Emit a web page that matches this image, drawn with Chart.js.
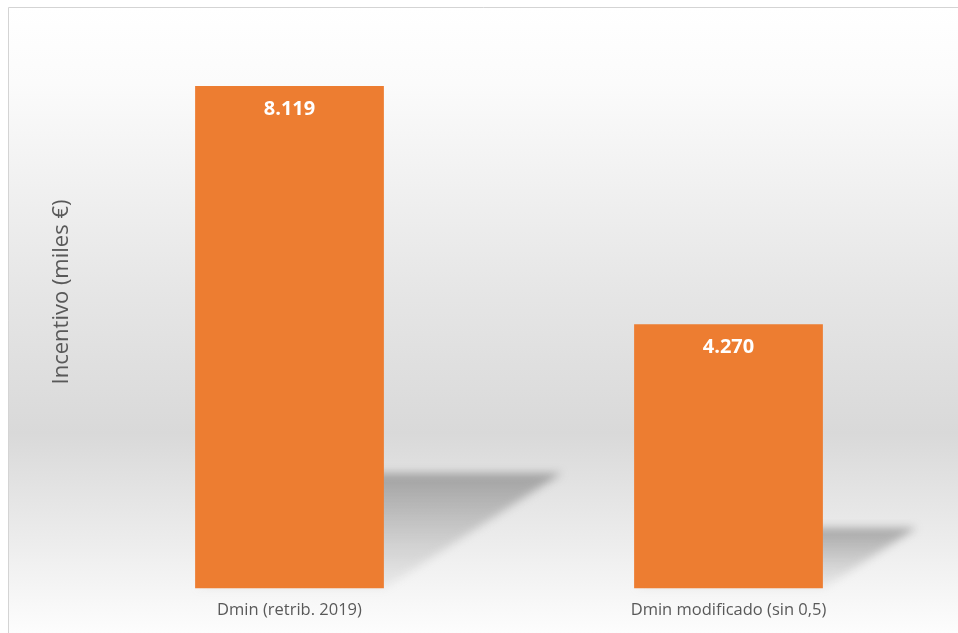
<!DOCTYPE html>
<html>
<head>
<meta charset="utf-8">
<script src="https://cdn.jsdelivr.net/npm/chart.js@4"></script>
<style>
  html, body { margin: 0; padding: 0; background: #fff; overflow: hidden; }
  #wrap { width: 958px; height: 633px; }
</style>
</head>
<body>
<div id="wrap"><canvas id="chart" width="958" height="633"></canvas></div>
<script>
const categories = ["Dmin (retrib. 2019)", "Dmin modificado (sin 0,5)"];
const incentivo = [8119, 4270];
const yTitle = "Incentivo (miles €)";

const FONT = "'Open Sans', sans-serif";
const ORANGE = "#ed7d31";
const GREY_TEXT = "#595959";

// thousands with a dot, as in the original
const fmt = (v) => String(v).replace(/\B(?=(\d{3})+(?!\d))/g, ".");

const backgroundPlugin = {
  id: "bg",
  beforeDraw(chart) {
    const { ctx, width, height } = chart;
    ctx.save();
    ctx.fillStyle = "#fff";
    ctx.fillRect(0, 0, width, height);
    const g = ctx.createLinearGradient(0, 8, 0, height);
    g.addColorStop(0, "#ffffff");
    g.addColorStop(0.12, "#fbfbfb");
    g.addColorStop(0.45, "#e6e6e6");
    g.addColorStop(0.68, "#d9d9d9");
    g.addColorStop(0.85, "#ececec");
    g.addColorStop(1, "#fdfdfd");
    ctx.fillStyle = g;
    ctx.fillRect(8, 7, width - 8, height - 7);
    ctx.strokeStyle = "#d4d4d4";
    ctx.lineWidth = 1;
    ctx.beginPath();
    ctx.moveTo(8.5, height);
    ctx.lineTo(8.5, 7.5);
    ctx.lineTo(width, 7.5);
    ctx.stroke();
    ctx.restore();
  },
};

// perspective shadow behind each bar
const shadowPlugin = {
  id: "barShadow",
  beforeDatasetsDraw(chart) {
    const { ctx } = chart;
    const meta = chart.getDatasetMeta(0);
    ctx.save();
    meta.data.forEach((bar) => {
      const left = bar.x - bar.width / 2;
      const right = bar.x + bar.width / 2;
      const h = (bar.base - bar.y) * 0.23;
      const dx = h * 1.54;
      const top = bar.base - h;
      const g = ctx.createLinearGradient(0, top, 0, bar.base);
      g.addColorStop(0, "rgba(110,110,110,0.55)");
      g.addColorStop(1, "rgba(150,150,150,0.1)");
      ctx.filter = "blur(4px)";
      ctx.fillStyle = g;
      ctx.beginPath();
      ctx.moveTo(left, bar.base);
      ctx.lineTo(right, bar.base);
      ctx.lineTo(right + dx, top);
      ctx.lineTo(left + dx, top);
      ctx.closePath();
      ctx.fill();
    });
    ctx.restore();
  },
};

const valueLabelPlugin = {
  id: "valueLabels",
  afterDatasetsDraw(chart) {
    const { ctx } = chart;
    const meta = chart.getDatasetMeta(0);
    ctx.save();
    ctx.fillStyle = "#ffffff";
    ctx.font = "bold 20px " + FONT;
    ctx.textAlign = "center";
    ctx.textBaseline = "middle";
    meta.data.forEach((bar, i) => {
      ctx.fillText(fmt(incentivo[i]), bar.x, bar.y + 23);
    });
    ctx.restore();
  },
};

// y title drawn by hand so it sits where Excel put it
const yTitlePlugin = {
  id: "yTitle",
  afterDraw(chart) {
    const { ctx } = chart;
    ctx.save();
    ctx.translate(62, 292);
    ctx.rotate(-Math.PI / 2);
    ctx.fillStyle = GREY_TEXT;
    ctx.font = "22px " + FONT;
    ctx.textAlign = "center";
    ctx.textBaseline = "middle";
    ctx.fillText(yTitle, 0, 0);
    ctx.restore();
  },
};

new Chart(document.getElementById("chart"), {
  type: "bar",
  data: {
    labels: categories,
    datasets: [
      {
        data: incentivo,
        backgroundColor: ORANGE,
        borderWidth: 0,
        categoryPercentage: 1,
        barPercentage: 0.43,
      },
    ],
  },
  options: {
    responsive: false,
    animation: false,
    layout: { padding: { left: 70, right: 10, top: 31.5, bottom: 0 } },
    plugins: {
      legend: { display: false },
      tooltip: { enabled: false },
    },
    scales: {
      x: {
        grid: { display: false, drawTicks: false },
        border: { display: false },
        ticks: {
          color: GREY_TEXT,
          font: { family: FONT, size: 16.5, lineHeight: 1 },
          padding: 14,
        },
      },
      y: {
        min: 0,
        max: 9000,
        grid: { display: false, drawTicks: false },
        border: { display: false },
        ticks: { display: false },
        afterFit: (scale) => { scale.width = 0; },
      },
    },
  },
  plugins: [backgroundPlugin, shadowPlugin, valueLabelPlugin, yTitlePlugin],
});
</script>
</body>
</html>
